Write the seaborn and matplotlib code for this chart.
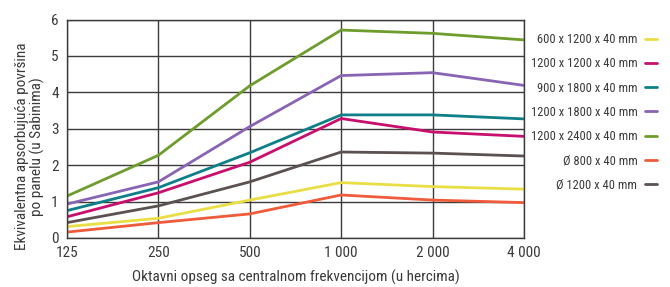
import matplotlib
matplotlib.use("Agg")
import matplotlib.pyplot as plt
import seaborn as sns
import pandas as pd

# octave band centre frequencies (Hz) and tick labels
freqs = [125, 250, 500, 1000, 2000, 4000]
freq_labels = ["125", "250", "500", "1 000", "2 000", "4 000"]

panels = ["600 x 1200 x 40 mm", "1200 x 1200 x 40 mm", "900 x 1800 x 40 mm",
          "1200 x 1800 x 40 mm", "1200 x 2400 x 40 mm", "Ø 800 x 40 mm",
          "Ø 1200 x 40 mm"]
colors = ["#E9DF45", "#C80F6E", "#0E7F88", "#8A64B4", "#6E9D2D", "#EF5B3B", "#5B5151"]

# equivalent absorption area per panel (Sabins)
p600x1200 = [0.31, 0.54, 1.04, 1.52, 1.41, 1.34]
p1200x1200 = [0.58, 1.24, 2.08, 3.28, 2.91, 2.79]
p900x1800 = [0.75, 1.38, 2.34, 3.38, 3.38, 3.27]
p1200x1800 = [0.93, 1.54, 3.06, 4.46, 4.54, 4.19]
p1200x2400 = [1.15, 2.27, 4.18, 5.71, 5.62, 5.44]
d800 = [0.16, 0.42, 0.66, 1.18, 1.04, 0.97]
d1200 = [0.42, 0.88, 1.54, 2.36, 2.33, 2.25]

series = [p600x1200, p1200x1200, p900x1800, p1200x1800, p1200x2400, d800, d1200]
rows = []
for name, vals in zip(panels, series):
    for f, v in zip(freqs, vals):
        rows.append({"freq": f, "sabins": v, "panel": name})
df = pd.DataFrame(rows)

sns.set_style("white")
plt.rcParams["font.family"] = ["Roboto Condensed", "DejaVu Sans"]
txt = "#3a3a3a"

fig = plt.figure(figsize=(6.7, 2.87), dpi=100)
ax = fig.add_axes([0.1, 0.171, 0.682, 0.761])

sns.lineplot(data=df, x="freq", y="sabins", hue="panel", hue_order=panels,
             palette=colors, linewidth=2.0, ax=ax)

ax.set_xscale("log", base=2)
ax.set_xlim(125, 4000)
ax.set_ylim(0, 6)
ax.set_xticks(freqs)
ax.set_xticklabels(freq_labels)
ax.minorticks_off()
ax.set_yticks(range(7))
ax.tick_params(length=0, labelsize=11, labelcolor=txt, pad=6)
ax.grid(True, color="#3c3c3c", linewidth=1.0)
ax.set_axisbelow(True)
for s in ax.spines.values():
    s.set_color("#3c3c3c")
    s.set_linewidth(1.0)

ax.set_xlabel("Oktavni opseg sa centralnom frekvencijom (u hercima)",
              fontsize=11, color=txt, labelpad=7)
ax.set_ylabel("Ekvivalentna apsorbujuća površina\npo panelu (u Sabinima)",
              fontsize=11, color=txt, linespacing=1.05)
ax.yaxis.set_label_coords(-0.048, 0.42)

leg = ax.legend(loc="upper right", bbox_to_anchor=(0.981, 0.885),
                bbox_transform=fig.transFigure, frameon=False,
                markerfirst=False, handlelength=0.95, handletextpad=0.65,
                labelspacing=0.9, fontsize=9.0, borderaxespad=0, borderpad=0)
for t in leg.get_texts():
    t.set_color(txt)

fig.savefig("out.png", dpi=100)
